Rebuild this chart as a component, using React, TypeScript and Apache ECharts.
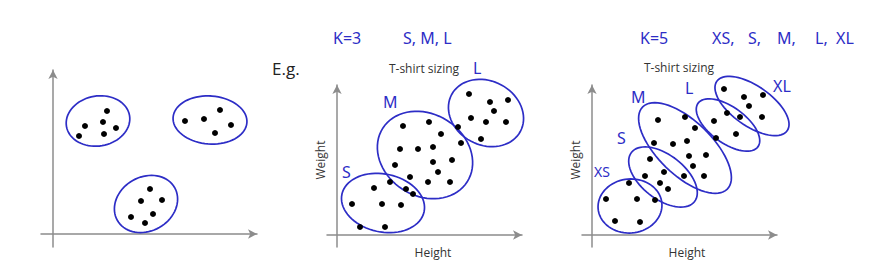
import React, { useEffect, useRef } from "react";
import * as echarts from "echarts";

// ---- Data (units: arbitrary height / weight units, origin at axis crossing) ----
// Panel 1: unlabeled clusters
const p1Points: [number, number][] = [
  [54, 123], [32, 108], [50, 112], [63, 106], [26, 98], [51, 100],
  [132, 113], [151, 115], [167, 124], [178, 109], [162, 101],
  [97, 45], [88, 33], [109, 34], [100, 20], [78, 17], [92, 11],
];
// cluster outlines: [centerX, centerY, radiusX, radiusY, angleDeg]
const p1Clusters: number[][] = [
  [45, 113, 32, 25, 10],
  [157, 114, 37, 24, -4],
  [93, 30, 33, 27, 30],
];

// Panel 2: T-shirt sizing, K=3
const p2Points: [number, number][] = [
  [132, 141], [153, 133], [171, 135], [157, 124], [134, 117], [149, 113], [169, 113], [144, 96],
  [66, 109], [92, 113], [121, 108], [104, 101], [63, 86], [81, 86], [96, 88], [124, 92],
  [58, 70], [96, 73], [115, 75], [101, 63], [73, 58], [91, 53], [113, 53],
  [53, 53], [37, 47], [69, 46], [76, 41], [15, 31], [45, 31], [64, 30], [23, 8], [48, 8],
];
const p2Clusters: number[][] = [
  [46, 32, 42, 29, -12],
  [88, 80, 50, 41, -32],
  [149, 122, 39, 32, -28],
];

// Panel 3: T-shirt sizing, K=5
const p3Points: [number, number][] = [
  [132, 146], [152, 138], [171, 140], [157, 129], [170, 118],
  [135, 122], [148, 118], [122, 114], [144, 101], [124, 97],
  [66, 115], [93, 118], [103, 107], [62, 92], [81, 91], [95, 94], [114, 80], [97, 79], [101, 69], [112, 59], [92, 59],
  [58, 76], [72, 63], [53, 59], [68, 52], [76, 46],
  [37, 52], [14, 36], [45, 36], [63, 35], [23, 14], [48, 13],
];
const p3Clusters: number[][] = [
  [38, 29, 32, 27, 5],
  [71, 58, 40, 22, -38],
  [93, 87, 59, 27, -44],
  [136, 110, 37, 18, -36],
  [160, 129, 43, 20, -35],
];

const INK = "#2d2dc6";
const AXIS = "#8c8c8c";

function axis(gridIndex: number, min: number, max: number) {
  return {
    gridIndex,
    type: "value",
    min,
    max,
    axisLine: {
      show: true,
      onZero: true,
      symbol: ["none", "arrow"],
      symbolSize: [7, 9],
      lineStyle: { color: AXIS, width: 1.5 },
    },
    axisTick: { show: false },
    axisLabel: { show: false },
    splitLine: { show: false },
  };
}

function outlineSeries(idx: number, data: number[][]) {
  return {
    type: "custom",
    xAxisIndex: idx,
    yAxisIndex: idx,
    data,
    encode: { x: 0, y: 1 },
    silent: true,
    renderItem: (_params: any, api: any) => {
      const cx = api.value(0);
      const cy = api.value(1);
      const rx = api.value(2);
      const ry = api.value(3);
      const a = (api.value(4) * Math.PI) / 180;
      const pts: number[][] = [];
      const n = 72;
      for (let i = 0; i <= n + 4; i++) {
        const t = (i / n) * Math.PI * 2 + 1.3;
        const ex = rx * Math.cos(t);
        const ey = ry * Math.sin(t);
        const x = cx + ex * Math.cos(a) - ey * Math.sin(a);
        const y = cy + ex * Math.sin(a) + ey * Math.cos(a);
        pts.push(api.coord([x, y]));
      }
      return {
        type: "polyline",
        shape: { points: pts },
        style: { fill: "none", stroke: INK, lineWidth: 1.7 },
      };
    },
  };
}

function dotSeries(idx: number, data: [number, number][]) {
  return {
    type: "scatter",
    xAxisIndex: idx,
    yAxisIndex: idx,
    data,
    symbolSize: 6,
    itemStyle: { color: "#000", opacity: 1 },
    silent: true,
  };
}

const hand = (text: string, x: number, y: number, size = 16) => ({
  type: "text",
  x,
  y,
  style: {
    text,
    fill: INK,
    font: `${size}px "Noto Sans"`,
    textAlign: "left",
    textVerticalAlign: "middle",
  },
});

const label = (text: string, x: number, y: number, rotate = false, size = 12) => ({
  type: "text",
  x,
  y,
  rotation: rotate ? Math.PI / 2 : 0,
  style: {
    text,
    fill: "#333",
    font: `${size}px "Open Sans"`,
    textAlign: "center",
    textVerticalAlign: "middle",
  },
});

export default function App() {
  const ref = useRef<HTMLDivElement>(null);
  useEffect(() => {
    if (!ref.current) return;
    const chart = echarts.init(ref.current, null, { renderer: "svg" });
    chart.setOption({
      animation: false,
      backgroundColor: "#ffffff",
      grid: [
        { left: 41, top: 70, width: 216, height: 177 },
        { left: 327, top: 85, width: 195, height: 162 },
        { left: 582, top: 85, width: 195, height: 162 },
      ],
      xAxis: [axis(0, -12, 204), axis(1, -10, 185), axis(2, -10, 185)],
      yAxis: [axis(0, -13, 164), axis(1, -12, 150), axis(2, -12, 150)],
      series: [
        dotSeries(0, p1Points),
        outlineSeries(0, p1Clusters),
        dotSeries(1, p2Points),
        outlineSeries(1, p2Clusters),
        dotSeries(2, p3Points),
        outlineSeries(2, p3Clusters),
      ],
      graphic: [
        {
          type: "text",
          x: 272,
          y: 68,
          style: {
            text: "E.g.",
            fill: "#222",
            font: '17px "Open Sans"',
            textAlign: "left",
            textVerticalAlign: "middle",
          },
        },
        label("T-shirt sizing", 424, 68),
        label("Weight", 320, 160, true),
        label("Height", 433, 252),
        label("T-shirt sizing", 679, 67),
        label("Weight", 575, 160, true),
        label("Height", 687, 252),
        hand("K=3", 333, 38),
        hand("S, M, L", 403, 38),
        hand("L", 473, 68),
        hand("M", 383, 102),
        hand("S", 342, 172),
        hand("K=5", 640, 38),
        hand("XS,", 712, 38),
        hand("S,", 748, 38),
        hand("M,", 777, 38),
        hand("L,", 815, 38),
        hand("XL", 836, 38),
        hand("XL", 773, 86),
        hand("L", 685, 88),
        hand("M", 631, 97),
        hand("S", 617, 138),
        hand("XS", 594, 171, 14),
      ],
    });
    return () => chart.dispose();
  }, []);
  return (
    <div
      ref={ref}
      style={{ position: "fixed", left: 0, top: 0, width: 871, height: 280 }}
    />
  );
}
